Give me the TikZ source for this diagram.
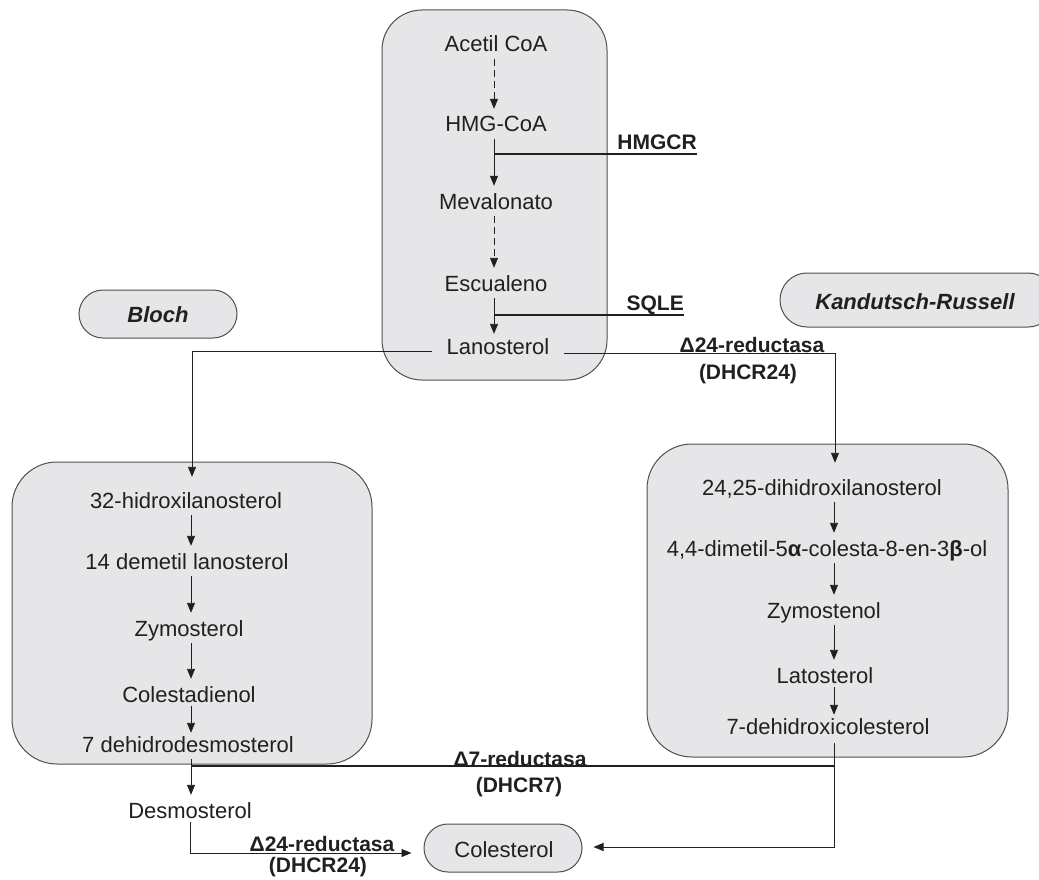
\documentclass[tikz,border=0pt]{standalone}
\usepackage{fontspec}
\setmainfont{Liberation Sans}
\usetikzlibrary{arrows.meta}
\definecolor{boxgray}{HTML}{E6E6E8}
\definecolor{edgegray}{HTML}{505050}
\definecolor{ink}{HTML}{202020}
\begin{document}
\begin{tikzpicture}[x=1pt,y=-1pt,
  panel/.style={draw=edgegray,line width=1pt,fill=boxgray,rounded corners=40pt,inner sep=0pt},
  pill/.style={draw=edgegray,line width=1pt,fill=boxgray,rounded corners=24pt,inner sep=0pt,minimum height=48pt},
  txt/.style={font=\fontsize{22}{26}\selectfont,text=ink,inner sep=0pt,text height=16pt,text depth=0pt},
  enz/.style={font=\fontsize{21}{25}\selectfont\bfseries,text=ink,inner sep=0pt,text height=16pt,text depth=0pt},
  conn/.style={draw=ink,line width=0.9pt,shorten <=7pt,shorten >=7pt},
  arr/.style={conn,-{Triangle[length=10pt,width=8pt]}},
  darr/.style={arr,dash pattern=on 7pt off 4pt},
  enzline/.style={draw=ink,line width=2.6pt},
  wire/.style={draw=ink,line width=0.9pt},
  warr/.style={wire,-{Triangle[length=10pt,width=8pt]}}
]
\useasboundingbox (0,0) rectangle (1039,880);
\fill[white] (0,0) rectangle (1039,880);

% panels
\node[panel,minimum width=225pt,minimum height=370pt] (toppanel) at (494.5,195) {};
\node[panel,minimum width=360pt,minimum height=302pt,rounded corners=45pt] (leftpanel) at (192,613) {};
\node[panel,minimum width=361pt,minimum height=313pt,rounded corners=45pt] (rightpanel) at (827.5,600.5) {};

% pills
\node[pill,minimum width=158pt] (bloch) at (158,314) {};
\node[txt,font=\fontsize{22}{26}\selectfont\bfseries\itshape] (blochtxt) at (158,314) {Bloch};
\node[pill,minimum width=275pt,minimum height=54pt,rounded corners=27pt] (kr) at (917.5,300) {};
\node[txt,font=\fontsize{22}{26}\selectfont\bfseries\itshape] (krtxt) at (915,301) {Kandutsch-Russell};
\node[pill,minimum width=158pt] (col) at (503,848) {};
\node[txt] (coltxt) at (504,849) {Colesterol};

% top pathway
\coordinate (tx) at (494,0);
\node[txt] (ac) at (496,44) {Acetil CoA};
\node[txt] (hmg) at (496,124) {HMG-CoA};
\node[txt] (mev) at (496,201) {Mevalonato};
\node[txt] (esc) at (496,283) {Escualeno};
\node[txt] (lan) at (498,346) {Lanosterol};
\draw[darr] (ac.south -| tx) -- (hmg.north -| tx);
\draw[arr] (hmg.south -| tx) -- (mev.north -| tx);
\draw[darr] (mev.south -| tx) -- (esc.north -| tx);
\draw[arr,shorten >=4pt] (esc.south -| tx) -- (lan.north -| tx);

\coordinate (hpt) at (494,154);
\node[enz,anchor=south east] (hmgcr) at (697,150) {HMGCR};
\draw[enzline] (hpt) -- (hpt -| hmgcr.east);
\coordinate (spt) at (494,315);
\node[enz,anchor=south east] (sqle) at (684,311) {SQLE};
\draw[enzline] (spt) -- (spt -| sqle.east);

% left pathway
\coordinate (bx) at (191,0);
\node[txt] (b1) at (186,500) {32-hidroxilanosterol};
\node[txt] (b2) at (187,561) {14 demetil lanosterol};
\node[txt] (b3) at (189,628) {Zymosterol};
\node[txt] (b4) at (189,694) {Colestadienol};
\node[txt] (b5) at (188,744) {7 dehidrodesmosterol};
\node[txt] (des) at (190,810) {Desmosterol};
\draw[arr] (b1.south -| bx) -- (b2.north -| bx);
\draw[arr] (b2.south -| bx) -- (b3.north -| bx);
\draw[arr] (b3.south -| bx) -- (b4.north -| bx);
\draw[arr,shorten <=4pt,shorten >=3pt] (b4.south -| bx) -- (b5.north -| bx);
\draw[arr] (b5.south -| bx) -- (des.north -| bx);

% right pathway
\coordinate (kx) at (834,0);
\node[txt] (k1) at (822,487) {24,25-dihidroxilanosterol};
\node[txt] (k2) at (827,548) {4,4-dimetil-5\textbf{α}-colesta-8-en-3\textbf{β}-ol};
\node[txt] (k3) at (824,610) {Zymostenol};
\node[txt] (k4) at (825,675) {Latosterol};
\node[txt] (k5) at (828,726) {7-dehidroxicolesterol};
\draw[arr] (k1.south -| kx) -- (k2.north -| kx);
\draw[arr] (k2.south -| kx) -- (k3.north -| kx);
\draw[arr] (k3.south -| kx) -- (k4.north -| kx);
\draw[arr,shorten <=4pt,shorten >=3pt] (k4.south -| kx) -- (k5.north -| kx);

% lanosterol branches
\coordinate (lcorner) at (192,351);
\coordinate (rcorner) at (835,353);
\draw[warr] ([xshift=-14pt]lan.west |- lcorner) -- (lcorner) -- ([yshift=15pt]b1.north -| lcorner);
\draw[warr] ([xshift=14pt]lan.east |- rcorner) -- (rcorner) -- ([yshift=16pt]k1.north -| rcorner);
\node[enz,anchor=south] (d24a) at (752,353) {Δ24-reductasa};
\node[enz] (d24b) at (748,371) {(DHCR24)};

% Delta7 reductase
\coordinate (d7l) at (191,766);
\coordinate (d7r) at (834,766);
\draw[enzline] (d7l) -- (d7r);
\node[enz,anchor=south] (d7a) at (520,767) {Δ7-reductasa};
\node[enz] (d7b) at (519,784) {(DHCR7)};

% to colesterol
\coordinate (dcorner) at (190,853);
\draw[warr] ([yshift=-4pt]des.south) -- (dcorner) -- ([xshift=-12pt]col.west |- dcorner);
\node[enz,anchor=south] (d24c) at (322,852) {Δ24-reductasa};
\node[enz] (d24d) at (318,864) {(DHCR24)};

\coordinate (kcorner) at (834,847);
\draw[warr] ([yshift=-9pt]k5.south -| kx) -- (kcorner) -- ([xshift=11pt]col.east |- kcorner);
\end{tikzpicture}
\end{document}
